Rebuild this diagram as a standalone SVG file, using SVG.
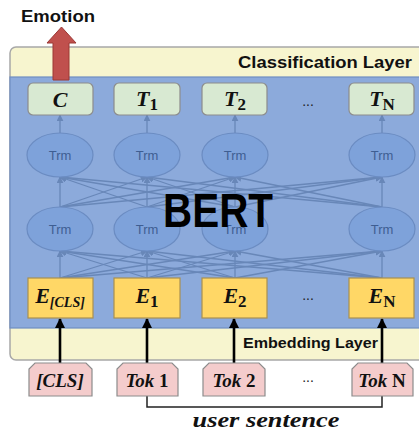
<svg xmlns="http://www.w3.org/2000/svg" width="419" height="432" viewBox="0 0 419 432">
  <style>
    .layer { fill: #f7f5cf; stroke: #a8a8a8; stroke-width: 1.5; }
    .body { fill: #8caadb; stroke: #6e8ec2; stroke-width: 1.2; }
    .out { fill: #d8e9d2; stroke: #8c8c8c; stroke-width: 1.2; }
    .emb { fill: #ffd766; stroke: #a89050; stroke-width: 1.2; }
    .tok { fill: #f4cccc; stroke: #8c8c8c; stroke-width: 1.2; }
    .trm { fill: #7ea2da; stroke: #6b8cc2; stroke-width: 1.2; }
    .trmt { font-family: "Liberation Sans", Arial, sans-serif; font-size: 13px; fill: #3e5e92; text-anchor: middle; }
    .math { font-family: "Liberation Serif", "Times New Roman", serif; font-weight: bold; font-style: italic; fill: #111; text-anchor: middle; }
    .lbl { font-family: "Liberation Sans", Arial, sans-serif; font-weight: bold; fill: #111; }
    .fan { stroke: #6887b8; stroke-width: 1.3; fill: none; marker-end: url(#tip); }
    .inp { stroke: #000; stroke-width: 2.6; fill: none; marker-end: url(#blk); }
    .dots { font-family: "Liberation Sans", Arial, sans-serif; font-size: 14px; fill: #222; text-anchor: middle; }
  </style>
  <defs>
    <marker id="tip" viewBox="0 0 10 10" refX="9" refY="5" markerWidth="7" markerHeight="7" orient="auto" markerUnits="userSpaceOnUse">
      <path d="M0,0 L10,5 L0,10 z" fill="#6887b8"/>
    </marker>
    <marker id="blk" viewBox="0 0 10 10" refX="9" refY="5" markerWidth="10" markerHeight="10" orient="auto" markerUnits="userSpaceOnUse">
      <path d="M0,0 L10,5 L0,10 z" fill="#000"/>
    </marker>
  </defs>

  <!-- layers -->
  <g id="layers">
    <rect class="layer" x="10" y="47" width="420" height="313" rx="6"/>
    <rect class="body" x="10" y="77" width="420" height="251"/>
    <text class="lbl" x="412" y="68" font-size="16" text-anchor="end" textLength="174" lengthAdjust="spacingAndGlyphs">Classification Layer</text>
    <text class="lbl" x="378" y="348" font-size="14" text-anchor="end" textLength="135" lengthAdjust="spacingAndGlyphs">Embedding Layer</text>
  </g>

  <!-- connectors -->
  <g id="connectors">
    <!-- embeddings to first transformer row -->
    <line class="fan" x1="60" y1="278" x2="60" y2="251"/>
    <line class="fan" x1="60" y1="278" x2="147" y2="251"/>
    <line class="fan" x1="60" y1="278" x2="235" y2="251"/>
    <line class="fan" x1="60" y1="278" x2="382" y2="251"/>
    <line class="fan" x1="147" y1="278" x2="60" y2="251"/>
    <line class="fan" x1="147" y1="278" x2="147" y2="251"/>
    <line class="fan" x1="147" y1="278" x2="235" y2="251"/>
    <line class="fan" x1="147" y1="278" x2="382" y2="251"/>
    <line class="fan" x1="235" y1="278" x2="60" y2="251"/>
    <line class="fan" x1="235" y1="278" x2="147" y2="251"/>
    <line class="fan" x1="235" y1="278" x2="235" y2="251"/>
    <line class="fan" x1="235" y1="278" x2="382" y2="251"/>
    <line class="fan" x1="382" y1="278" x2="60" y2="251"/>
    <line class="fan" x1="382" y1="278" x2="147" y2="251"/>
    <line class="fan" x1="382" y1="278" x2="235" y2="251"/>
    <line class="fan" x1="382" y1="278" x2="382" y2="251"/>
    <!-- first row to second row -->
    <line class="fan" x1="60" y1="207" x2="60" y2="177"/>
    <line class="fan" x1="60" y1="207" x2="147" y2="177"/>
    <line class="fan" x1="60" y1="207" x2="235" y2="177"/>
    <line class="fan" x1="60" y1="207" x2="382" y2="177"/>
    <line class="fan" x1="147" y1="207" x2="60" y2="177"/>
    <line class="fan" x1="147" y1="207" x2="147" y2="177"/>
    <line class="fan" x1="147" y1="207" x2="235" y2="177"/>
    <line class="fan" x1="147" y1="207" x2="382" y2="177"/>
    <line class="fan" x1="235" y1="207" x2="60" y2="177"/>
    <line class="fan" x1="235" y1="207" x2="147" y2="177"/>
    <line class="fan" x1="235" y1="207" x2="235" y2="177"/>
    <line class="fan" x1="235" y1="207" x2="382" y2="177"/>
    <line class="fan" x1="382" y1="207" x2="60" y2="177"/>
    <line class="fan" x1="382" y1="207" x2="147" y2="177"/>
    <line class="fan" x1="382" y1="207" x2="235" y2="177"/>
    <line class="fan" x1="382" y1="207" x2="382" y2="177"/>
    <!-- second row to outputs -->
    <line class="fan" x1="60" y1="133" x2="60" y2="115"/>
    <line class="fan" x1="147" y1="133" x2="147" y2="115"/>
    <line class="fan" x1="235" y1="133" x2="235" y2="115"/>
    <line class="fan" x1="382" y1="133" x2="382" y2="115"/>
    <!-- tokens to embeddings -->
    <line class="inp" x1="60" y1="364" x2="60" y2="319"/>
    <line class="inp" x1="147" y1="364" x2="147" y2="319"/>
    <line class="inp" x1="234" y1="364" x2="234" y2="319"/>
    <line class="inp" x1="382" y1="364" x2="382" y2="319"/>
    <!-- sentence bracket -->
    <polyline points="147,396 147,407 382,407 382,396" fill="none" stroke="#222" stroke-width="1.5"/>
  </g>

  <!-- transformer blocks -->
  <g id="trm-top">
    <ellipse class="trm" cx="60" cy="155" rx="33" ry="22"/><text class="trmt" x="60" y="160">Trm</text>
    <ellipse class="trm" cx="147" cy="155" rx="33" ry="22"/><text class="trmt" x="147" y="160">Trm</text>
    <ellipse class="trm" cx="235" cy="155" rx="33" ry="22"/><text class="trmt" x="235" y="160">Trm</text>
    <ellipse class="trm" cx="382" cy="155" rx="33" ry="22"/><text class="trmt" x="382" y="160">Trm</text>
  </g>
  <g id="trm-bottom">
    <ellipse class="trm" cx="60" cy="229" rx="33" ry="22"/><text class="trmt" x="60" y="234">Trm</text>
    <ellipse class="trm" cx="147" cy="229" rx="33" ry="22"/><text class="trmt" x="147" y="234">Trm</text>
    <ellipse class="trm" cx="235" cy="229" rx="33" ry="22"/><text class="trmt" x="235" y="234">Trm</text>
    <ellipse class="trm" cx="382" cy="229" rx="33" ry="22"/><text class="trmt" x="382" y="234">Trm</text>
  </g>

  <text id="bert" x="218" y="227" font-family="'Liberation Sans', Arial, sans-serif" font-weight="bold" font-size="49" fill="#000" text-anchor="middle" textLength="110" lengthAdjust="spacingAndGlyphs">BERT</text>

  <!-- output nodes -->
  <g id="out-c"><rect class="out" x="28" y="83" width="65" height="32" rx="5"/><text class="math" x="60" y="107" font-size="22">C</text></g>
  <g id="out-t1"><rect class="out" x="114" y="83" width="66" height="32" rx="5"/><text class="math" x="147" y="106" font-size="22">T<tspan font-style="normal" font-size="17" dy="4">1</tspan></text></g>
  <g id="out-t2"><rect class="out" x="202" y="83" width="65" height="32" rx="5"/><text class="math" x="235" y="106" font-size="22">T<tspan font-style="normal" font-size="17" dy="4">2</tspan></text></g>
  <text class="dots" x="308" y="106">...</text>
  <g id="out-tn"><rect class="out" x="349" y="83" width="65" height="32" rx="5"/><text class="math" x="382" y="106" font-size="22">T<tspan font-style="normal" font-size="17" dy="4">N</tspan></text></g>

  <!-- embedding nodes -->
  <g id="emb-cls"><rect class="emb" x="28" y="278" width="65" height="40"/><text class="math" x="60" y="303" font-size="22">E<tspan font-size="14" dy="4">[CLS]</tspan></text></g>
  <g id="emb-1"><rect class="emb" x="114" y="278" width="66" height="40"/><text class="math" x="147" y="303" font-size="22">E<tspan font-style="normal" font-size="17" dy="4">1</tspan></text></g>
  <g id="emb-2"><rect class="emb" x="202" y="278" width="65" height="40"/><text class="math" x="235" y="303" font-size="22">E<tspan font-style="normal" font-size="17" dy="4">2</tspan></text></g>
  <text class="dots" x="308" y="300">...</text>
  <g id="emb-n"><rect class="emb" x="349" y="278" width="65" height="40"/><text class="math" x="382" y="303" font-size="22">E<tspan font-style="normal" font-size="17" dy="4">N</tspan></text></g>

  <!-- input tokens -->
  <g id="tok-cls"><path class="tok" d="M29,396 V369 L35,363 H86 L92,369 V396 Z"/><text class="math" x="60" y="387" font-size="19">[CLS]</text></g>
  <g id="tok-1"><path class="tok" d="M117,396 V369 L123,363 H172 L178,369 V396 Z"/><text class="math" x="147" y="387" font-size="19">Tok <tspan font-style="normal">1</tspan></text></g>
  <g id="tok-2"><path class="tok" d="M203,396 V369 L209,363 H259 L265,369 V396 Z"/><text class="math" x="234" y="387" font-size="19">Tok <tspan font-style="normal">2</tspan></text></g>
  <text class="dots" x="308" y="382">...</text>
  <g id="tok-n"><path class="tok" d="M352,396 V369 L358,363 H407 L413,369 V396 Z"/><text class="math" x="382" y="387" font-size="19">Tok <tspan font-style="normal">N</tspan></text></g>

  <text class="math" x="266" y="427" font-size="21" textLength="147" lengthAdjust="spacingAndGlyphs">user sentence</text>

  <!-- classification output -->
  <g id="emotion">
    <polygon points="53,80 53,43 47,43 61.5,27 76,43 69,43 69,80" fill="#c0504d" stroke="#9c3835" stroke-width="1"/>
    <text class="lbl" x="21" y="22" font-size="17" textLength="74" lengthAdjust="spacingAndGlyphs">Emotion</text>
  </g>
</svg>
